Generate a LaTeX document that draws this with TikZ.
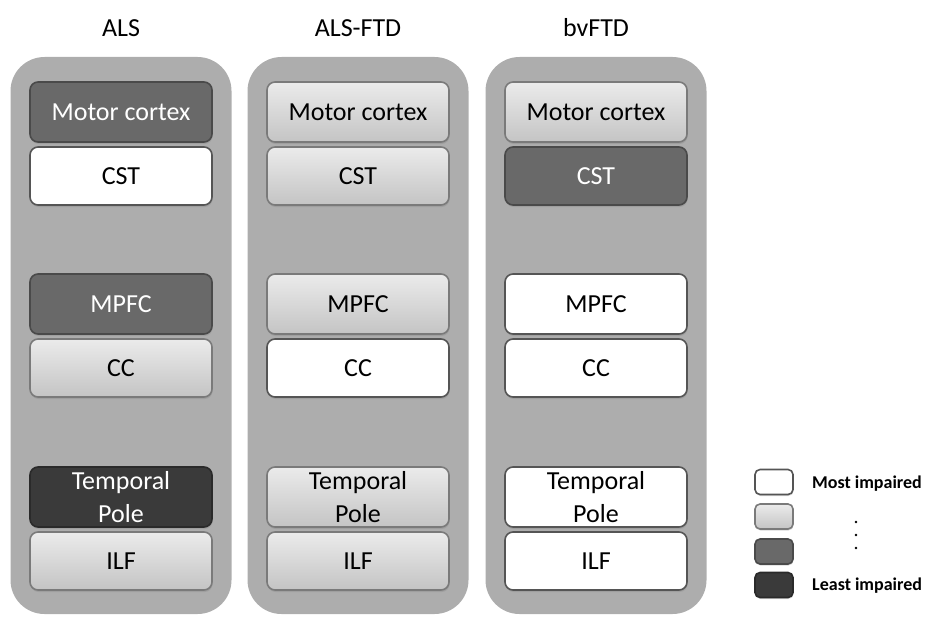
\documentclass[tikz,border=0pt]{standalone}
\usepackage{fontspec}
\setmainfont{Carlito}
\usetikzlibrary{shadows}

\definecolor{colgray}{HTML}{ADADAD}
\definecolor{lighttop}{HTML}{EBEBEB}
\definecolor{lightbot}{HTML}{C4C4C4}
\definecolor{lightrim}{HTML}{7A7A7A}
\definecolor{whiterim}{HTML}{555555}
\definecolor{darkfill}{HTML}{696969}
\definecolor{darkrim}{HTML}{4A4A4A}
\definecolor{blackfill}{HTML}{3A3A3A}
\definecolor{blackrim}{HTML}{2A2A2A}

\begin{document}
\begin{tikzpicture}[x=1pt,y=-1pt,
  column/.style={fill=colgray, draw=none, rounded corners=34pt,
    minimum width=221pt, minimum height=557pt, inner sep=0pt},
  title/.style={font=\fontsize{26}{31}\selectfont, inner sep=0pt},
  region/.style={rounded corners=8pt, minimum width=182pt, inner sep=0pt,
    align=center, font=\fontsize{26}{33}\selectfont, line width=1.6pt,
    drop shadow={shadow xshift=0.6pt, shadow yshift=-2pt, opacity=0.3}},
  upper/.style={minimum height=60pt},
  lower/.style={minimum height=58pt},
  most/.style={fill=white, draw=whiterim},
  mild/.style={top color=lighttop, bottom color=lightbot, draw=lightrim},
  moderate/.style={fill=darkfill, draw=darkrim, text=white},
  least/.style={fill=blackfill, draw=blackrim, text=white},
  keybox/.style={rounded corners=5pt, minimum width=38pt, minimum height=25pt,
    inner sep=0pt, line width=1.6pt,
    drop shadow={shadow xshift=0.5pt, shadow yshift=-1.5pt, opacity=0.3}},
  keytext/.style={anchor=west, inner sep=0pt, font=\fontsize{18}{22}\bfseries\selectfont},
  keydot/.style={circle, fill=black, inner sep=0pt, minimum size=2.6pt}
]
\useasboundingbox (0,0) rectangle (925,618);

% column headings
\node[title] (t-als) at (121,28) {ALS};
\node[title] (t-alsftd) at (358,28) {ALS-FTD};
\node[title] (t-bvftd) at (596,28) {bvFTD};

% grey column panels
\node[column] (c-als) at (121,335.5) {};
\node[column] (c-alsftd) at (358,335.5) {};
\node[column] (c-bvftd) at (596,335.5) {};

% ALS
\node[region, upper, moderate] (als-motor) at (121,112) {Motor cortex};
\node[region, lower, most]     (als-cst)   at (121,176) {CST};
\node[region, upper, moderate] (als-mpfc)  at (121,304) {MPFC};
\node[region, lower, mild]     (als-cc)    at (121,368) {CC};
\node[region, upper, least]    (als-tp)    at (121,497) {Temporal\\Pole};
\node[region, lower, mild]     (als-ilf)   at (121,561) {ILF};

% ALS-FTD
\node[region, upper, mild] (af-motor) at (358,112) {Motor cortex};
\node[region, lower, mild] (af-cst)   at (358,176) {CST};
\node[region, upper, mild] (af-mpfc)  at (358,304) {MPFC};
\node[region, lower, most] (af-cc)    at (358,368) {CC};
\node[region, upper, mild] (af-tp)    at (358,497) {Temporal\\Pole};
\node[region, lower, mild] (af-ilf)   at (358,561) {ILF};

% bvFTD
\node[region, upper, mild]     (bv-motor) at (596,112) {Motor cortex};
\node[region, lower, moderate] (bv-cst)   at (596,176) {CST};
\node[region, upper, most]     (bv-mpfc)  at (596,304) {MPFC};
\node[region, lower, most]     (bv-cc)    at (596,368) {CC};
\node[region, upper, most]     (bv-tp)    at (596,497) {Temporal\\Pole};
\node[region, lower, most]     (bv-ilf)   at (596,561) {ILF};

% key
\node[keybox, most]     (k1) at (774,482) {};
\node[keybox, mild]     (k2) at (774,516.5) {};
\node[keybox, moderate] (k3) at (774,551.5) {};
\node[keybox, least]    (k4) at (774,585) {};
\node[keytext] (k-most)  at (812,484) {Most impaired};
\node[keytext] (k-least) at (812,586) {Least impaired};
\node[keydot] (d1) at (856,522) {};
\node[keydot] (d2) at (856,535) {};
\node[keydot] (d3) at (856,548) {};
\end{tikzpicture}
\end{document}
